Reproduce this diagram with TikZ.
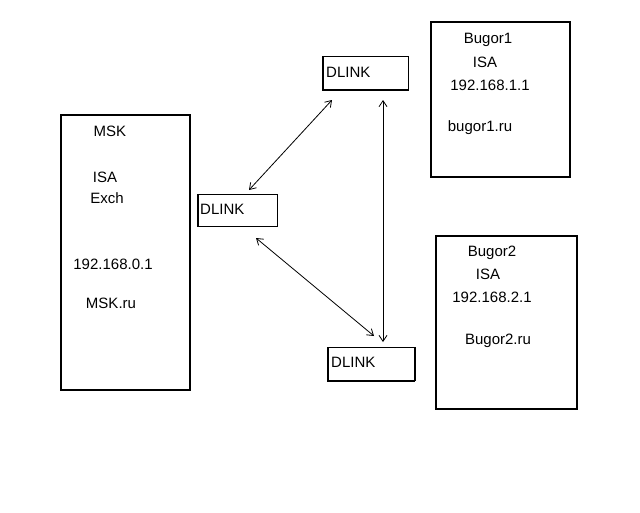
\documentclass[tikz,border=0pt]{standalone}
\usepackage{fontspec}
\setmainfont{Liberation Sans}
\usetikzlibrary{arrows.meta}
\begin{document}
\begin{tikzpicture}[x=1pt,y=-1pt,
 box/.style={draw,line width=1.2pt},
 t/.style={font=\fontsize{15}{18}\selectfont,inner sep=0pt},
 ar/.style={line width=0.8pt,{Straight Barb[length=6pt,width=8pt]}-{Straight Barb[length=6pt,width=8pt]}}]
\useasboundingbox[fill=white] (0,0) rectangle (640,512);
\draw[box] (61,115) rectangle (190,390);
\draw[box] (431,22) rectangle (570,177);
\draw[box] (436,236) rectangle (577,409);
\node[box,minimum width=85pt,minimum height=33pt,anchor=north west,inner sep=0pt] (d1) at (323,56) {};
\node[box,minimum width=79pt,minimum height=32pt,anchor=north west,inner sep=0pt] (d2) at (198,194) {};
\node[box,minimum width=86pt,minimum height=33pt,anchor=north west,inner sep=0pt] (d3) at (328,347) {};
\draw[line width=2.5pt] (d1.north west)--(d1.south west)--(d1.south east);
\draw[line width=2.5pt] (d2.north west)--(d2.south west);
\draw[line width=2.5pt] (d3.north west)--(d3.south west)--(d3.south east) (d3.north east)--(d3.south east);
\node[t,anchor=west] at (326,72) {DLINK};
\node[t,anchor=west] at (200,209) {DLINK};
\node[t,anchor=west] at (331,362) {DLINK};
\node[t] at (110,131) {MSK};
\node[t] at (105,177) {ISA};
\node[t] at (107,198) {Exch};
\node[t] at (113,264) {192.168.0.1};
\node[t] at (111,303) {MSK.ru};
\node[t] at (488,40) {Bugor1};
\node[t] at (485,62) {ISA};
\node[t] at (490,85) {192.168.1.1};
\node[t] at (480,128) {bugor1.ru};
\node[t] at (492,253) {Bugor2};
\node[t] at (488,274) {ISA};
\node[t] at (492,297) {192.168.2.1};
\node[t] at (498,341) {Bugor2.ru};
\coordinate (a1) at (332,100); \coordinate (a2) at (249,190);
\coordinate (b1) at (383,100); \coordinate (b2) at (383,342);
\coordinate (c1) at (256,238); \coordinate (c2) at (374,336);
\draw[ar] (a1)--(a2);
\draw[ar] (b1)--(b2);
\draw[ar] (c1)--(c2);
\end{tikzpicture}
\end{document}
